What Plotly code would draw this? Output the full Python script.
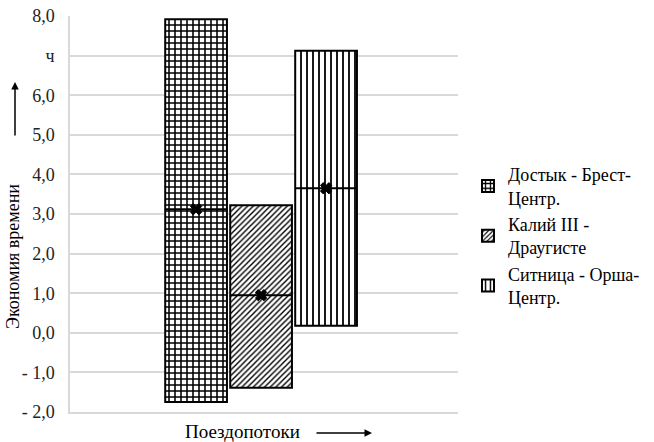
import plotly.graph_objects as go

series_names = ["Достык - Брест-<br>Центр.", "Калий III -<br>Драугисте", "Ситница - Орша-<br>Центр."]
box_low = [-1.75, -1.39, 0.18]
box_high = [7.92, 3.22, 7.12]
medians = [3.12, 0.95, 3.65]
patterns = ["+", "/", "|"]
pattern_sizes = [6, 4, 6]
pattern_solidity = [0.45, 0.35, 0.3]
ytick_vals = [-2, -1, 0, 1, 2, 3, 4, 5, 6, 7, 8]
ytick_text = ["- 2,0", "- 1,0", "0,0", "1,0", "2,0", "3,0", "4,0", "5,0", "6,0", "ч", "8,0"]

FONT = "Liberation Serif"
W = 0.95

fig = go.Figure()
for i, name in enumerate(series_names):
    fig.add_trace(go.Bar(
        x=[i], y=[box_high[i] - box_low[i]], base=[box_low[i]], width=W, name=name,
        marker=dict(color="white", line=dict(color="black", width=2),
                    pattern=dict(shape=patterns[i], fgcolor="black", bgcolor="white",
                                 size=pattern_sizes[i], solidity=pattern_solidity[i])),
    ))
for i in range(len(series_names)):
    fig.add_trace(go.Scatter(
        x=[i - W / 2, i + W / 2], y=[medians[i], medians[i]], mode="lines",
        line=dict(color="black", width=2), showlegend=False, hoverinfo="skip"))
    fig.add_trace(go.Scatter(
        x=[i], y=[medians[i]], mode="markers",
        marker=dict(symbol="x", size=10, color="black", line=dict(color="black", width=1)),
        showlegend=False, hoverinfo="skip"))

L, R, T, B = 70, 196, 16, 30
PW, PH = 654 - L - R, 442 - T - B

def px2paper(px, py):
    return (px - L) / PW, (442 - B - py) / PH

annots = []
ax_, ay_ = px2paper(13, 257)
annots.append(dict(x=ax_, y=ay_, xref="paper", yref="paper", text="Экономия времени",
                   textangle=-90, showarrow=False, font=dict(family=FONT, size=18, color="black"),
                   xanchor="center", yanchor="middle"))
hx, hy = px2paper(15, 82)
annots.append(dict(x=hx, y=hy, xref="paper", yref="paper", text="", showarrow=True,
                   ax=0, ay=55, arrowhead=2, arrowsize=1, arrowwidth=1.5, arrowcolor="black"))
tx, ty = px2paper(242, 431)
annots.append(dict(x=tx, y=ty, xref="paper", yref="paper", text="Поездопотоки",
                   showarrow=False, font=dict(family=FONT, size=19, color="black"),
                   xanchor="center", yanchor="middle"))
hx2, hy2 = px2paper(372, 433)
annots.append(dict(x=hx2, y=hy2, xref="paper", yref="paper", text="", showarrow=True,
                   ax=-57, ay=0, arrowhead=2, arrowsize=1, arrowwidth=1.5, arrowcolor="black"))

lx, ly = px2paper(468, 156)
fig.update_layout(
    template="none",
    width=654, height=442,
    margin=dict(l=L, r=R, t=T, b=B, autoexpand=False),
    plot_bgcolor="white", paper_bgcolor="white",
    barmode="overlay",
    font=dict(family=FONT, size=18, color="#222"),
    showlegend=True,
    legend=dict(x=lx, y=ly, xanchor="left", yanchor="top", font=dict(family=FONT, size=18, color="black"),
                bgcolor="rgba(0,0,0,0)", tracegroupgap=0),
    annotations=annots,
    xaxis=dict(range=[-1.94, 4.03], showticklabels=False, showgrid=False, zeroline=False,
               showline=True, linecolor="#d9d9d9", linewidth=1.5, ticks="", automargin=False),
    yaxis=dict(range=[-2, 8], tickvals=ytick_vals, ticktext=ytick_text, showgrid=True,
               gridcolor="#d9d9d9", gridwidth=1.5, zeroline=False, showline=True,
               linecolor="#d9d9d9", linewidth=1.5, ticks="", ticklabelstandoff=10, automargin=False,
               tickfont=dict(family=FONT, size=18, color="#222")),
)
fig.write_html("out.html", config={"displayModeBar": False},
               post_script="document.body.style.margin='0';document.body.style.padding='0';")
